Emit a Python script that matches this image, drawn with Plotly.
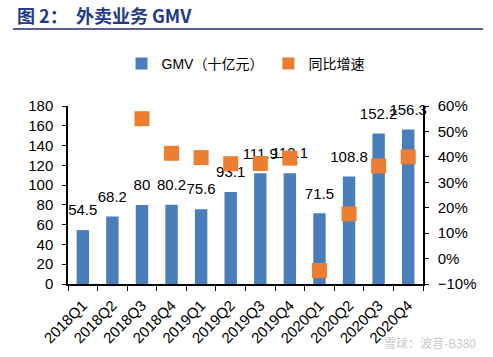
import plotly.graph_objects as go

categories = ["2018Q1", "2018Q2", "2018Q3", "2018Q4", "2019Q1", "2019Q2",
              "2019Q3", "2019Q4", "2020Q1", "2020Q2", "2020Q3", "2020Q4"]
gmv = [54.5, 68.2, 80, 80.2, 75.6, 93.1, 111.9, 112.1, 71.5, 108.8, 152.2, 156.3]
growth = [None, None, 55.0, 41.4, 39.7, 37.3, 37.4, 39.5, -4.7, 17.6, 36.4, 40.0]
gmv_labels = ["54.5", "68.2", "80", "80.2", "75.6", "93.1", "111.9", "112.1",
              "71.5", "108.8", "152.2", "156.3"]

W, H = 493, 357
L, R, T, B = 68, 70, 106, 73
pw, ph = W - L - R, H - T - B

def px(x):
    return (x - L) / pw

def py(y):
    return (H - B - y) / ph

fig = go.Figure()
fig.add_trace(go.Bar(
    x=categories, y=gmv, name="GMV（十亿元）",
    marker=dict(color="#4A7EBB", line=dict(width=0)),
))
fig.add_trace(go.Scatter(
    x=categories, y=gmv, mode="markers+text", text=gmv_labels,
    textposition="top center", showlegend=False, hoverinfo="skip",
    marker=dict(size=16, color="rgba(0,0,0,0)"), cliponaxis=False,
    textfont=dict(size=15, color="#000000", family="Liberation Sans, Arial"),
))
fig.add_trace(go.Scatter(
    x=categories, y=growth, name="同比增速", yaxis="y2", mode="markers",
    marker=dict(symbol="square", size=15, color="#ED7D31", line=dict(width=0)),
    cliponaxis=False,
))

fig.update_layout(
    width=W, height=H,
    margin=dict(l=L, r=R, t=T, b=B),
    paper_bgcolor="white", plot_bgcolor="white",
    font=dict(family="Liberation Sans, Arial, Noto Sans CJK SC", color="#000000", size=14),
    bargap=0.58,
    showlegend=True,
    legend=dict(orientation="h", x=0.5, xanchor="center", y=py(64), yanchor="middle",
                font=dict(size=14, family="Liberation Sans, Noto Sans CJK SC"),
                itemwidth=30, itemsizing="constant", bgcolor="rgba(0,0,0,0)"),
    xaxis=dict(
        type="category", range=[-0.5, len(categories) - 0.5],
        showline=True, linecolor="#000000", linewidth=1.5,
        ticks="outside", tickson="boundaries", ticklen=5, tickcolor="#000000",
        tickangle=-45, tickfont=dict(size=15), showgrid=False, ticklabelstandoff=5,
    ),
    yaxis=dict(
        range=[0, 180], dtick=20, showline=True, linecolor="#000000", linewidth=1.5,
        ticks="outside", ticklen=4, tickcolor="#000000", showgrid=False, zeroline=False,
        tickfont=dict(size=15), ticklabelstandoff=6,
    ),
    yaxis2=dict(
        range=[-10, 60], dtick=10, overlaying="y", side="right", ticksuffix="%",
        showline=True, linecolor="#000000", linewidth=1.5,
        ticks="outside", ticklen=4, tickcolor="#000000", showgrid=False, zeroline=False,
        tickfont=dict(size=15), ticklabelstandoff=6,
    ),
)

fig.add_annotation(
    text="<b>图 2：  外卖业务 GMV</b>", xref="paper", yref="paper",
    x=px(15), y=py(15), xanchor="left", yanchor="middle", showarrow=False,
    font=dict(size=18, color="#1F3A8A", family="Noto Sans CJK SC"),
)
fig.add_shape(type="line", xref="paper", yref="paper",
              x0=px(13), x1=px(483), y0=py(29), y1=py(29),
              line=dict(color="#1F2A7A", width=1.5))
fig.add_annotation(
    text="雪球：波音-B380", xref="paper", yref="paper",
    x=px(478), y=py(342), xanchor="right", yanchor="middle", showarrow=False,
    font=dict(size=12, color="#C8C8C8", family="Noto Sans CJK SC"),
)

fig.write_html("out.html", config={"displayModeBar": False},
               post_script="document.body.style.margin='0';")
